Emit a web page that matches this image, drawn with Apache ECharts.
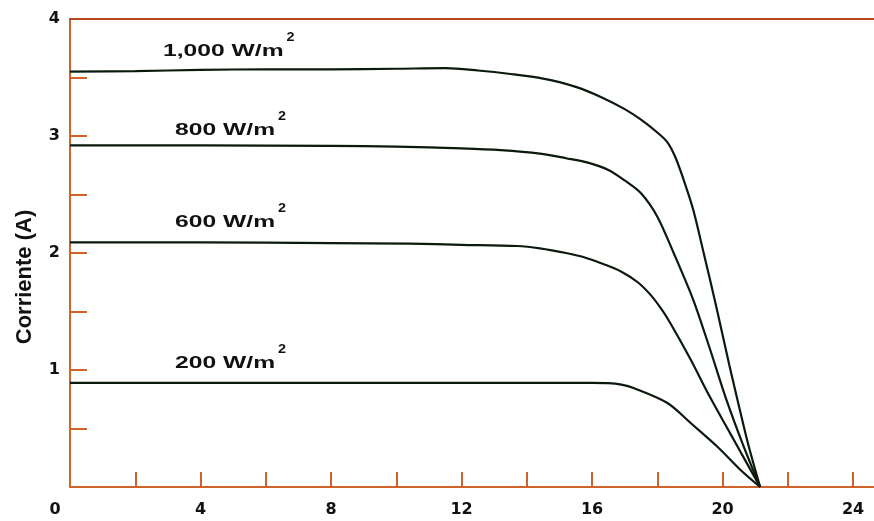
<!DOCTYPE html>
<html>
<head>
<meta charset="utf-8">
<script src="https://cdn.jsdelivr.net/npm/echarts@6/dist/echarts.min.js"></script>
<style>
  html, body { margin: 0; padding: 0; background: #ffffff; }
  #chart { width: 874px; height: 521px; }
</style>
</head>
<body>
<div id="chart"></div>
<script>
// I-V curves of a PV module at four irradiance levels (voltage in V, current in A)
const v1000 = [0, 2, 4, 6, 8, 10, 11.5, 12.5, 13.5, 14.5, 15.5, 16.3, 17.0, 17.5, 18.0, 18.3, 18.55, 18.8, 19.1, 19.42, 19.8, 20.2, 20.46, 20.77, 21.15];
const i1000 = [3.55, 3.555, 3.565, 3.57, 3.57, 3.575, 3.58, 3.56, 3.53, 3.49, 3.42, 3.33, 3.23, 3.14, 3.03, 2.95, 2.82, 2.63, 2.37, 2.0, 1.55, 1.05, 0.74, 0.38, 0];

const v800 = [0, 4, 8, 10, 12, 13.2, 14.4, 15.2, 15.9, 16.5, 17.0, 17.5, 18.0, 18.5, 19.1, 19.6, 20.1, 20.6, 21.15];
const i800 = [2.92, 2.92, 2.915, 2.91, 2.895, 2.88, 2.85, 2.81, 2.77, 2.71, 2.62, 2.51, 2.31, 2.0, 1.6, 1.19, 0.76, 0.38, 0];

const v600 = [0, 4, 8, 10.4, 12, 13.7, 14.4, 15.2, 15.8, 16.4, 16.9, 17.4, 17.8, 18.1, 18.4, 19.0, 19.63, 20.25, 20.75, 21.15];
const i600 = [2.09, 2.09, 2.085, 2.08, 2.07, 2.06, 2.04, 2.0, 1.96, 1.9, 1.84, 1.75, 1.64, 1.53, 1.40, 1.10, 0.76, 0.45, 0.20, 0];

const v200 = [0, 4, 8, 12, 16, 16.5, 16.9, 17.27, 18.31, 19.02, 19.85, 20.55, 21.15];
const i200 = [0.89, 0.89, 0.89, 0.89, 0.89, 0.888, 0.875, 0.846, 0.718, 0.547, 0.342, 0.145, 0];

// curve captions: text, anchor (voltage, current) of the caption's left/middle
const captions = ['1,000 W/m', '800 W/m', '600 W/m', '200 W/m'];
const captionV = [2.85, 3.22, 3.22, 3.22];
const captionI = [3.726, 3.051, 2.265, 1.06];

// axis ticks and labels
const xTickValues = [2, 4, 6, 8, 10, 12, 14, 16, 18, 20, 22, 24];
const xLabelValues = [0, 4, 8, 12, 16, 20, 24];
const yTickValues = [0.5, 1, 1.5, 2, 2.5, 3, 3.5];
const yLabelValues = [1, 2, 3, 4];

const axisOrange = '#d0622c';
const topRed = '#b9471d';
const curveColor = '#0a1a0c';
const tickFont = { fontFamily: 'DejaVu Sans', fontWeight: 'bold', fontSize: 16, color: '#111111' };

function pairs(xs, ys) { return xs.map((x, k) => [x, ys[k]]); }

function curve(name, xs, ys) {
  return {
    name: name,
    type: 'line',
    data: pairs(xs, ys),
    showSymbol: false,
    smooth: 0.3,
    lineStyle: { color: curveColor, width: 2.2 },
    silent: true
  };
}

const chart = echarts.init(document.getElementById('chart'), null, { renderer: 'canvas' });

chart.setOption({
  animation: false,
  backgroundColor: '#ffffff',
  grid: { left: 70, right: 0, top: 19, bottom: 34 },
  xAxis: [{
    type: 'value',
    min: 0,
    max: 24.64,
    axisLine: { show: true, lineStyle: { color: axisOrange, width: 2 } },
    axisTick: { show: true, inside: true, length: 15, customValues: xTickValues, lineStyle: { color: axisOrange, width: 2 } },
    axisLabel: Object.assign({
      customValues: xLabelValues,
      margin: 15,
      formatter: v => (v === 0 ? '{z|0}' : String(v)),
      rich: { z: Object.assign({ padding: [0, 30, 0, 0] }, tickFont) }
    }, tickFont),
    splitLine: { show: false }
  }, {
    type: 'value',
    position: 'top',
    min: 0,
    max: 24.64,
    axisLine: { show: true, onZero: false, lineStyle: { color: topRed, width: 2 } },
    axisTick: { show: false },
    axisLabel: { show: false },
    splitLine: { show: false }
  }],
  yAxis: {
    type: 'value',
    min: 0,
    max: 4,
    name: 'Corriente (A)',
    nameLocation: 'middle',
    nameGap: 34,
    nameTextStyle: { fontFamily: 'Liberation Sans', fontWeight: 'bold', fontSize: 22, color: '#111111', padding: [0, 48, 0, 0] },
    axisLine: { show: true, lineStyle: { color: axisOrange, width: 2 } },
    axisTick: { show: true, inside: true, length: 17, customValues: yTickValues, lineStyle: { color: axisOrange, width: 2 } },
    axisLabel: Object.assign({ customValues: yLabelValues, margin: 10, padding: [8, 0, 0, 0] }, tickFont),
    splitLine: { show: false }
  },
  series: [
    curve('1000', v1000, i1000),
    curve('800', v800, i800),
    curve('600', v600, i600),
    curve('200', v200, i200)
  ]
});

// curve captions with a superscript "2", anchored at data coordinates
const capFont = 'bold 17px "Liberation Sans"';
const supFont = 'bold 12px "Liberation Sans"';
const stretch = 1.45;
const measure = document.createElement('canvas').getContext('2d');
measure.font = capFont;

const graphics = [];
captions.forEach((txt, k) => {
  const p = chart.convertToPixel({ gridIndex: 0 }, [captionV[k], captionI[k]]);
  const w = measure.measureText(txt).width * stretch;
  graphics.push({
    type: 'text',
    x: p[0], y: p[1],
    scaleX: stretch,
    style: { text: txt, font: capFont, fill: '#111111', align: 'left', verticalAlign: 'middle' },
    silent: true
  });
  graphics.push({
    type: 'text',
    x: p[0] + w + 3, y: p[1] - 13,
    scaleX: 1.2,
    style: { text: '2', font: supFont, fill: '#111111', align: 'left', verticalAlign: 'middle' },
    silent: true
  });
});
chart.setOption({ graphic: graphics });
</script>
</body>
</html>
